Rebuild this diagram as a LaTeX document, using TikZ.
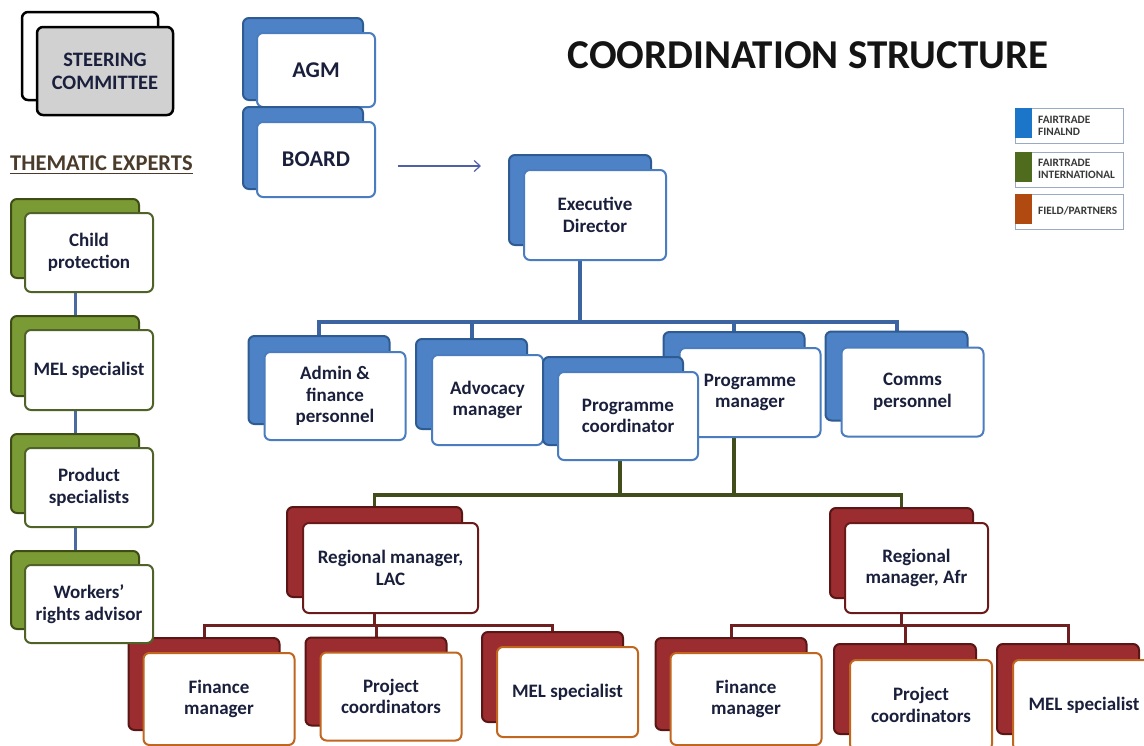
\documentclass[tikz,border=0pt]{standalone}
\usepackage{fontspec}
\setmainfont{Carlito}
\usetikzlibrary{arrows.meta,backgrounds}
\definecolor{txt}{HTML}{1A1F3C}
\definecolor{bluefill}{HTML}{4D83C6}
\definecolor{blueedge}{HTML}{2F5B93}
\definecolor{bluefront}{HTML}{4A7CC0}
\definecolor{greenfill}{HTML}{7A9A35}
\definecolor{greenedge}{HTML}{3D4D15}
\definecolor{greenfront}{HTML}{4F6228}
\definecolor{redfill}{HTML}{9B2D30}
\definecolor{rededge}{HTML}{5A1515}
\definecolor{redfront}{HTML}{6B1A1A}
\definecolor{orangefront}{HTML}{C0661E}
\definecolor{blueline}{HTML}{3C64A0}
\definecolor{greenline}{HTML}{414D1A}
\definecolor{redline}{HTML}{6E1F1F}
\definecolor{thline}{HTML}{4A6AA0}
\definecolor{arrowc}{HTML}{5060A8}
\definecolor{legblue}{HTML}{1B75C8}
\definecolor{leggreen}{HTML}{4E6B1E}
\definecolor{legbrown}{HTML}{B04A10}
\definecolor{legedge}{HTML}{9AAAC4}
\definecolor{headc}{HTML}{4A3B2A}
\newcommand\boxfont{\bfseries\fontsize{19}{21.5}\selectfont}
\newcommand\bigboxfont{\bfseries\fontsize{22.5}{26}\selectfont}
\newcommand\stfont{\bfseries\fontsize{20.5}{23}\selectfont}
\newcommand\legfont{\bfseries\fontsize{11.3}{12}\selectfont}
% #1 name, #2 style family, #3 cx, #4 cy, #5 w, #6 h, #7 offset, #8 text
\newcommand\orgbox[8]{%
  \node[#2back, minimum width=#5pt, minimum height=#6pt] (#1b) at (#3-#7,#4-#7) {};
  \node[#2front, minimum width=#5pt, minimum height=#6pt] (#1) at (#3,#4) {#8};}
\tikzset{
  box/.style={rectangle, rounded corners=6pt, line width=2pt, align=center,
    font=\boxfont, text=txt, inner sep=2pt},
  blueback/.style={box, fill=bluefill, draw=blueedge},
  bluefront/.style={box, fill=white, draw=bluefront},
  greenback/.style={box, fill=greenfill, draw=greenedge},
  greenfront/.style={box, fill=white, draw=greenfront},
  redback/.style={box, fill=redfill, draw=rededge},
  redfront/.style={box, fill=white, draw=redfront},
  orangeback/.style={box, fill=redfill, draw=rededge},
  orangefront/.style={box, fill=white, draw=orangefront},
  steerback/.style={box, fill=white, draw=black, line width=2.5pt},
  steerfront/.style={box, fill=black!18, draw=black, line width=2.5pt, font=\stfont},
  bline/.style={draw=blueline, line width=4pt},
  gline/.style={draw=greenline, line width=3.5pt},
  rline/.style={draw=redline, line width=3pt},
  tline/.style={draw=thline, line width=3pt},
  legbox/.style={rectangle, draw=legedge, line width=1pt, minimum width=108pt, minimum height=35pt, anchor=north west, inner sep=0pt},
  legsq/.style={rectangle, minimum width=17pt, minimum height=30pt, anchor=north west, inner sep=0pt},
  legtext/.style={anchor=west, align=left, font=\legfont, text=black!78, inner sep=0pt},
}
\begin{document}
\begin{tikzpicture}[x=1pt,y=-1pt]
\useasboundingbox (0,0) rectangle (1144,745);
\clip (0,0) rectangle (1144,745);

% title and heading
\node[font=\bfseries\fontsize{41}{45}\selectfont, text=black!92] (title) at (808,55) {COORDINATION STRUCTURE};
\node[font=\bfseries\fontsize{22.5}{25}\selectfont, text=headc, inner sep=0pt, anchor=west] (them) at (10,163) {THEMATIC EXPERTS};
\draw[headc, line width=1.5pt] (them.south west) ++(0,3) coordinate (ul1) -- (them.south east |- ul1) coordinate (ul2);

% steering committee, AGM, board
\orgbox{steer}{steer}{105}{71}{136}{88}{15}{STEERING\\COMMITTEE}
\node[blueback, minimum width=120pt, minimum height=82pt] (agmb) at (303,59) {};
\node[bluefront, minimum width=118pt, minimum height=74pt, font=\bigboxfont] (agm) at (316,70) {AGM};
\node[blueback, minimum width=120pt, minimum height=82pt] (boardb) at (303,148) {};
\node[bluefront, minimum width=118pt, minimum height=75pt, font=\bigboxfont] (board) at (316,159.5) {BOARD};
\coordinate (arrs) at (398,166);
\coordinate (arre) at (481,166);
\draw[arrowc, line width=1.2pt, -{Straight Barb[length=6pt,width=11pt]}] (arrs) -- (arre);

% executive level
\orgbox{exec}{blue}{595}{215}{142}{90}{15}{Executive\\Director}
\orgbox{admin}{blue}{335}{396}{141}{88}{16}{Admin \&\\finance\\personnel}
\orgbox{advo}{blue}{487.5}{400}{111}{90}{16}{Advocacy\\manager}
\orgbox{pm}{blue}{750}{392.5}{141}{89}{16}{Programme\\manager}
\orgbox{pc}{blue}{628}{416}{140}{88}{15}{Programme\\coordinator}
\orgbox{comms}{blue}{912.5}{392}{142}{89}{16}{Comms\\personnel}

% regional
\orgbox{lac}{red}{390.5}{568}{175}{90}{16}{Regional manager,\\LAC}
\orgbox{afr}{red}{916.5}{568}{143}{90}{15}{Regional\\manager, Afr}

% bottom row
\orgbox{finl}{orange}{219}{699}{151}{92}{15}{Finance\\manager}
\orgbox{projl}{orange}{391}{696.5}{141}{88}{15}{Project\\coordinators}
\orgbox{mell}{orange}{567.5}{692}{141}{90}{15}{MEL specialist}
\orgbox{fina}{orange}{746}{699}{151}{92}{15}{Finance\\manager}
\orgbox{proja}{orange}{921}{705}{142}{90}{16}{Project\\coordinators}
\orgbox{mela}{orange}{1084}{705}{142}{90}{16}{MEL specialist}

% thematic experts
\orgbox{child}{green}{89}{252.5}{128}{79}{14}{Child\\protection}
\orgbox{melt}{green}{89}{370}{128}{80}{14}{MEL specialist}
\orgbox{prod}{green}{89}{487.5}{128}{79}{14}{Product\\specialists}
\orgbox{work}{green}{89}{604}{128}{78}{14}{Workers’\\rights advisor}

% legend
\node[legbox] (lg1) at (1015,108) {};
\node[legsq, fill=legblue] (sq1) at (1015,108) {};
\node[legtext] (lt1) at (1038,126) {FAIRTRADE\\FINALND};
\node[legbox] (lg2) at (1015,152) {};
\node[legsq, fill=leggreen] (sq2) at (1015,152) {};
\node[legtext] (lt2) at (1038,169) {FAIRTRADE\\INTERNATIONAL};
\node[legbox] (lg3) at (1015,194) {};
\node[legsq, fill=legbrown] (sq3) at (1015,194) {};
\node[legtext] (lt3) at (1038,211) {FIELD/PARTNERS};

% connectors
\begin{pgfonlayer}{background}
\fill[white] (0,0) rectangle (1144,745);
\coordinate (bbus) at (0,322);
\draw[bline] (execb.south) -- (execb.south |- bbus);
\draw[bline] (adminb.north) |- (commsb.north |- bbus) -- (commsb.north);
\draw[bline] (advob.north) -- (advob.north |- bbus);
\draw[bline] (pmb.north) -- (pmb.north |- bbus);
\coordinate (gbus) at (0,495);
\draw[gline] ([xshift=-8pt]pc.south) -- ([xshift=-8pt]pc.south |- gbus);
\draw[gline] (pmb.south) -- (pmb.south |- gbus);
\draw[gline] (lacb.north) |- (afrb.north |- gbus) -- (afrb.north);
\coordinate (rbus) at (0,625);
\draw[rline] (lacb.south) -- (lacb.south |- rbus);
\draw[rline] (finlb.north) |- (mellb.north |- rbus) -- (mellb.north);
\draw[rline] (projlb.north) -- (projlb.north |- rbus);
\draw[rline] (afrb.south) -- (afrb.south |- rbus);
\draw[rline] (finab.north) |- (melab.north |- rbus) -- (melab.north);
\draw[rline] (projab.north) -- (projab.north |- rbus);
\draw[tline] (childb.south) -- (meltb.north);
\draw[tline] (meltb.south) -- (prodb.north);
\draw[tline] (prodb.south) -- (workb.north);
\end{pgfonlayer}
\end{tikzpicture}
\end{document}
